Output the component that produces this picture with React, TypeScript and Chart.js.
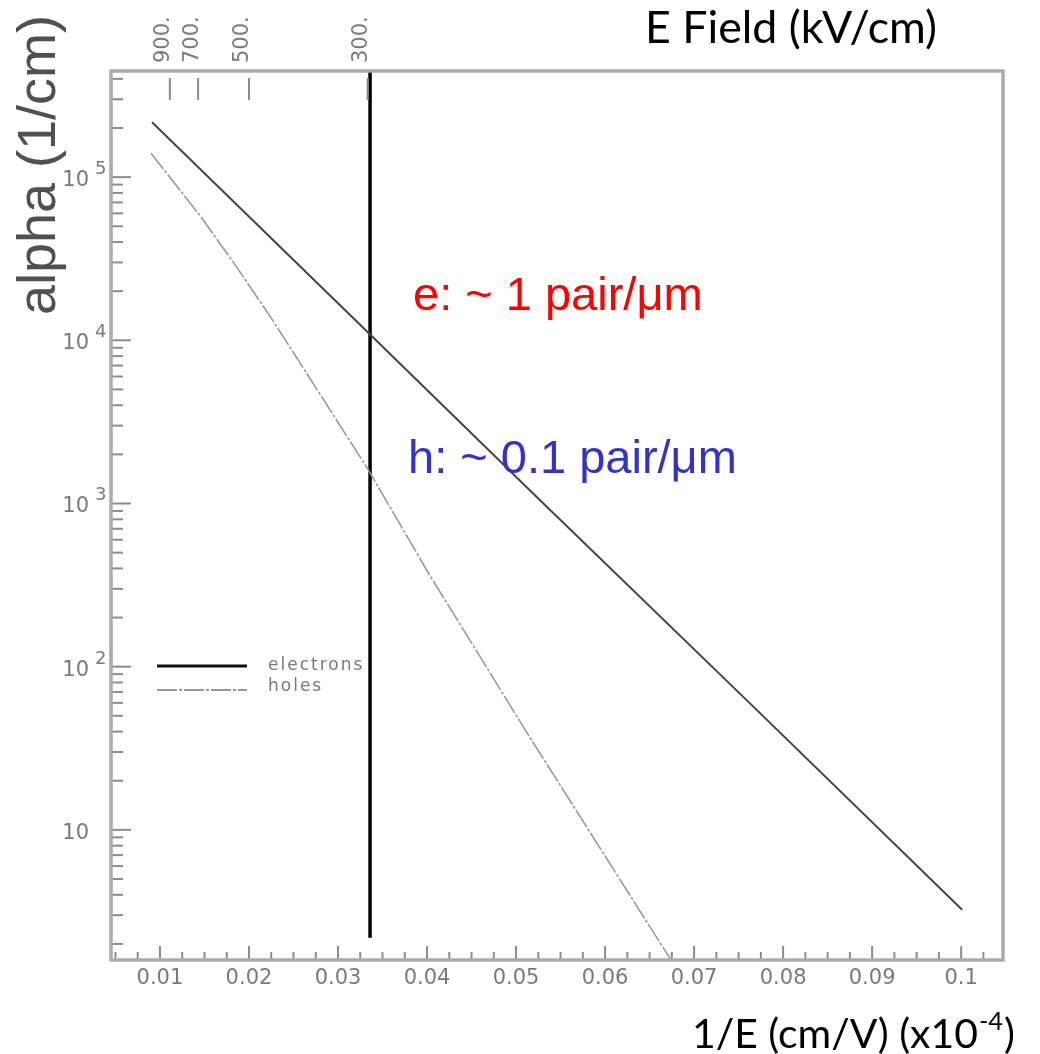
import React, { useEffect, useRef } from 'react';
import { Chart, registerables } from 'chart.js';

Chart.register(...registerables);

// ---------- data (1/E in units of 1e-4 cm/V, alpha in 1/cm) ----------
const ELECTRON_X = [0.00911, 0.03358, 0.05267, 0.07625, 0.10011];
const ELECTRON_Y = [217000, 10900, 1050, 59.8, 3.24];
const HOLE_X = [0.00899, 0.0145, 0.01862, 0.02269, 0.03325, 0.04032, 0.05155, 0.06693, 0.0675];
const HOLE_Y = [140000, 58200, 28100, 13200, 1660, 362, 36.9, 1.75, 1.57];
const MARKER_X = [0.0336, 0.0336];
const MARKER_Y = [447000, 2.18];
const SERIES_LABELS = ['electrons', 'holes', '300 kV/cm'];

// ---------- axes ----------
const X_MIN = 0.0045;
const X_MAX = 0.1047;
const Y_MIN = 1.594;
const Y_MAX = 447000;
const X_TICKS = [0.01, 0.02, 0.03, 0.04, 0.05, 0.06, 0.07, 0.08, 0.09, 0.1];
const X_TICK_LABELS = ['0.01', '0.02', '0.03', '0.04', '0.05', '0.06', '0.07', '0.08', '0.09', '0.1'];
const Y_TICKS = [10, 100, 1000, 10000, 100000];
const Y_TICK_BASES = ['10', '10', '10', '10', '10'];
const Y_TICK_EXPONENTS = ['', '2', '3', '4', '5'];
const E_FIELD_TICKS = [900, 700, 500, 300];
const E_FIELD_LABELS = ['900.', '700.', '500.', '300.'];

// ---------- texts ----------
const TOP_TITLE = 'E Field (kV/cm)';
const X_TITLE = '1/E (cm/V) (x10';
const X_TITLE_EXP = '-4';
const X_TITLE_END = ')';
const Y_TITLE = 'alpha (1/cm)';
const NOTE_E = 'e: ~ 1 pair/\u03bcm';
const NOTE_H = 'h: ~ 0.1 pair/\u03bcm';

const decorPlugin = {
  id: 'decor',
  afterDraw(chart: any) {
    const { ctx, chartArea: ca, scales } = chart;
    const xs = scales.x;
    const ys = scales.y;
    const xt = scales.xTop;
    const seg = (x1: number, y1: number, x2: number, y2: number) => {
      ctx.beginPath();
      ctx.moveTo(x1, y1);
      ctx.lineTo(x2, y2);
      ctx.stroke();
    };
    ctx.save();
    // inner tick marks
    ctx.strokeStyle = '#8c8c8c';
    ctx.lineWidth = 2;
    for (let i = 2; i <= 41; i++) {
      const v = i * 0.0025;
      if (v > X_MAX) break;
      const px = xs.getPixelForValue(v);
      seg(px, ca.bottom, px, ca.bottom - (i % 4 === 0 ? 14 : 8));
    }
    for (let d = 0; d <= 5; d++) {
      for (let m = 1; m <= 9; m++) {
        const v = m * Math.pow(10, d);
        if (v < Y_MIN || v > Y_MAX) continue;
        const py = ys.getPixelForValue(v);
        seg(ca.left, py, ca.left + (m === 1 ? 20 : 12), py);
      }
    }
    E_FIELD_TICKS.forEach((e, i) => {
      const px = xt.getPixelForValue(10 / e);
      seg(px, ca.top + 7, px, ca.top + 29);
      // rotated top-axis label
      ctx.save();
      ctx.translate(px - 6, ca.top - 8);
      ctx.rotate(-Math.PI / 2);
      ctx.font = '21px "DejaVu Sans"';
      ctx.fillStyle = '#7a7a7a';
      ctx.textAlign = 'left';
      ctx.textBaseline = 'middle';
      ctx.fillText(E_FIELD_LABELS[i], 0, 0);
      ctx.restore();
    });
    // frame
    ctx.strokeStyle = '#ababab';
    ctx.lineWidth = 3.5;
    ctx.strokeRect(ca.left, ca.top, ca.right - ca.left, ca.bottom - ca.top);

    // y tick labels (10^n)
    ctx.fillStyle = '#7a7a7a';
    ctx.textBaseline = 'alphabetic';
    Y_TICKS.forEach((v, i) => {
      const py = ys.getPixelForValue(v);
      ctx.font = '21px "DejaVu Sans"';
      ctx.textAlign = 'right';
      ctx.fillText(Y_TICK_BASES[i], 89, py + 9);
      if (Y_TICK_EXPONENTS[i]) {
        ctx.font = '18px "DejaVu Sans"';
        ctx.textAlign = 'left';
        ctx.fillText(Y_TICK_EXPONENTS[i], 95, py - 3);
      }
    });

    // legend inside plot
    const legendY = [666, 690];
    chart.data.datasets.slice(0, 2).forEach((ds: any, i: number) => {
      const y = legendY[i];
      ctx.strokeStyle = i === 0 ? '#111111' : ds.borderColor;
      ctx.lineWidth = i === 0 ? 3 : 2;
      ctx.setLineDash(ds.borderDash || []);
      seg(157, y, 247, y);
      ctx.setLineDash([]);
      ctx.fillStyle = '#7a7a7a';
      ctx.font = '17px "DejaVu Sans"';
      ctx.textAlign = 'left';
      (ctx as any).letterSpacing = '2px';
      ctx.fillText(ds.label, 268, y + (i === 0 ? 4 : 1));
      (ctx as any).letterSpacing = '0px';
    });

    // annotations
    ctx.textAlign = 'left';
    ctx.font = '47px "Liberation Sans"';
    ctx.fillStyle = '#ff0000';
    ctx.fillText(NOTE_E, 413, 310);
    ctx.fillStyle = '#3333cc';
    ctx.fillText(NOTE_H, 408, 473);

    // top title
    ctx.fillStyle = '#000000';
    ctx.font = '40px Lato';
    let w = ctx.measureText(TOP_TITLE).width;
    let size = (40 * 292) / w;
    ctx.font = `${size}px Lato`;
    ctx.fillText(TOP_TITLE, 645, 43);

    // bottom title with superscript
    ctx.font = '40px Lato';
    w = ctx.measureText(X_TITLE).width;
    size = (40 * 286) / w;
    ctx.font = `${size}px Lato`;
    ctx.fillText(X_TITLE, 692, 1048);
    let x = 692 + ctx.measureText(X_TITLE).width + 1;
    ctx.font = `${size * 0.62}px Lato`;
    ctx.fillText(X_TITLE_EXP, x, 1048 - size * 0.45);
    x += ctx.measureText(X_TITLE_EXP).width + 1;
    ctx.font = `${size}px Lato`;
    ctx.fillText(X_TITLE_END, x, 1048);

    // y title (rotated)
    ctx.save();
    ctx.translate(55, 165);
    ctx.rotate(-Math.PI / 2);
    ctx.textAlign = 'center';
    ctx.font = '54px "Liberation Sans"';
    ctx.fillStyle = '#505050';
    ctx.fillText(Y_TITLE, 0, 0);
    ctx.restore();

    ctx.restore();
  },
};

export default function App() {
  const ref = useRef<HTMLCanvasElement>(null);
  useEffect(() => {
    const canvas = ref.current;
    if (!canvas) return;
    const chart = new Chart(canvas, {
      type: 'line',
      data: {
        datasets: [
          {
            label: SERIES_LABELS[0],
            data: ELECTRON_X.map((x, i) => ({ x, y: ELECTRON_Y[i] })),
            borderColor: '#454545',
            borderWidth: 2,
            pointRadius: 0,
            fill: false,
            tension: 0,
          },
          {
            label: SERIES_LABELS[1],
            data: HOLE_X.map((x, i) => ({ x, y: HOLE_Y[i] })),
            borderColor: '#9a9a9a',
            borderWidth: 1.6,
            borderDash: [20, 2, 3, 2],
            pointRadius: 0,
            fill: false,
            tension: 0,
          },
          {
            label: SERIES_LABELS[2],
            data: MARKER_X.map((x, i) => ({ x, y: MARKER_Y[i] })),
            borderColor: '#000000',
            borderWidth: 3.5,
            pointRadius: 0,
            fill: false,
          },
        ],
      },
      options: {
        animation: false,
        responsive: true,
        maintainAspectRatio: false,
        devicePixelRatio: 1,
        layout: { padding: { left: 0, top: 0, right: 37, bottom: 0 } },
        plugins: { legend: { display: false }, tooltip: { enabled: false } },
        scales: {
          x: {
            type: 'linear',
            position: 'bottom',
            min: X_MIN,
            max: X_MAX,
            grid: { display: false, drawTicks: false },
            border: { display: false },
            afterBuildTicks: (s: any) => {
              s.ticks = X_TICKS.map((v) => ({ value: v }));
            },
            ticks: {
              autoSkip: false,
              minRotation: 0,
              maxRotation: 0,
              padding: 6,
              color: '#7a7a7a',
              font: { family: '"DejaVu Sans"', size: 21 },
              callback: (_v: any, i: number) => X_TICK_LABELS[i],
            },
            afterFit: (s: any) => {
              s.height = 94;
            },
          },
          xTop: {
            type: 'linear',
            position: 'top',
            min: X_MIN,
            max: X_MAX,
            grid: { display: false, drawTicks: false },
            border: { display: false },
            afterBuildTicks: (s: any) => {
              s.ticks = E_FIELD_TICKS.map((e) => ({ value: 10 / e }));
            },
            ticks: { display: false },
            afterFit: (s: any) => {
              s.height = 71;
            },
          },
          y: {
            type: 'logarithmic',
            position: 'left',
            min: Y_MIN,
            max: Y_MAX,
            grid: { display: false, drawTicks: false },
            border: { display: false },
            ticks: { display: false },
            afterFit: (s: any) => {
              s.width = 111;
            },
          },
        },
      },
      plugins: [decorPlugin],
    } as any);
    return () => chart.destroy();
  }, []);
  return (
    <div style={{ position: 'absolute', left: 0, top: 0, width: 1040, height: 1054, background: '#ffffff' }}>
      <canvas ref={ref} />
    </div>
  );
}
